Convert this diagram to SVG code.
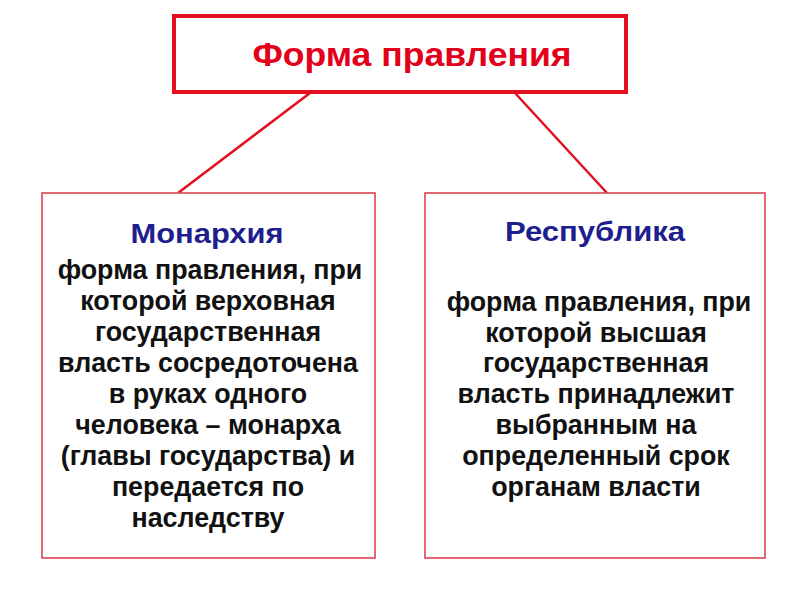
<svg xmlns="http://www.w3.org/2000/svg" width="800" height="600" viewBox="0 0 800 600">
<style>
.t{font-family:"Liberation Sans",Arial,sans-serif;font-weight:bold;text-anchor:middle}
.title{font-size:33px;fill:#e3001b}
.head{font-size:27px;fill:#1e1e8e}
.body{font-size:26.8px;fill:#111}
.box{fill:#fff;stroke:#d94452;stroke-width:1.6}
.conn{stroke:#e01020;stroke-width:2.5;fill:none}
</style>
<rect width="800" height="600" fill="#fff"/>
<g id="connectors">
<line class="conn" x1="310" y1="93" x2="178" y2="193"/>
<line class="conn" x1="515" y1="93" x2="607" y2="193"/>
</g>
<g id="top">
<rect x="174" y="16" width="452" height="76" fill="#fff" stroke="#e3101f" stroke-width="4"/>
<text class="t title" x="412" y="66" textLength="319" lengthAdjust="spacingAndGlyphs">Форма правления</text>
</g>
<g id="monarchy">
<rect class="box" x="42" y="193" width="333" height="365"/>
<text class="t head" x="207" y="243" textLength="153" lengthAdjust="spacingAndGlyphs">Монархия</text>
<text class="t body" x="210" y="279">форма правления, при</text>
<text class="t body" x="208" y="310">которой верховная</text>
<text class="t body" x="208" y="341">государственная</text>
<text class="t body" x="208" y="372">власть сосредоточена</text>
<text class="t body" x="208" y="403">в руках одного</text>
<text class="t body" x="208" y="434">человека – монарха</text>
<text class="t body" x="208" y="465">(главы государства) и</text>
<text class="t body" x="208" y="496">передается по</text>
<text class="t body" x="208" y="527">наследству</text>
</g>
<g id="republic">
<rect class="box" x="425" y="193" width="340" height="365"/>
<text class="t head" x="595" y="241" textLength="180" lengthAdjust="spacingAndGlyphs">Республика</text>
<text class="t body" x="599" y="311">форма правления, при</text>
<text class="t body" x="596" y="342">которой высшая</text>
<text class="t body" x="596" y="372">государственная</text>
<text class="t body" x="596" y="403">власть принадлежит</text>
<text class="t body" x="596" y="434">выбранным на</text>
<text class="t body" x="596" y="465">определенный срок</text>
<text class="t body" x="596" y="496">органам власти</text>
</g>
</svg>
